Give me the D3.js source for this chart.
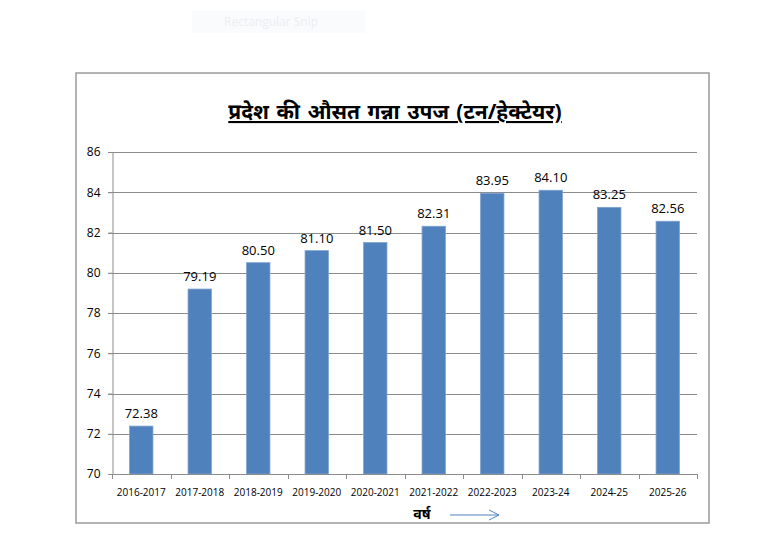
<!DOCTYPE html>
<html>
<head>
<meta charset="utf-8">
<script src="https://cdn.jsdelivr.net/npm/d3@7"></script>
<style>
  body { margin: 0; background: #fff; }
  svg text { font-family: "Open Sans", "Noto Sans", sans-serif; }
</style>
</head>
<body>
<script>
// years on the x axis
var years = ['2016-2017', '2017-2018', '2018-2019', '2019-2020', '2020-2021',
             '2021-2022', '2022-2023', '2023-24', '2024-25', '2025-26'];
// average sugarcane yield (tonnes / hectare)
var yields = [72.38, 79.19, 80.50, 81.10, 81.50, 82.31, 83.95, 84.10, 83.25, 82.56];
var yTicks = [70, 72, 74, 76, 78, 80, 82, 84, 86];
var title = 'प्रदेश की औसत गन्ना उपज (टन/हेक्टेयर)';
var xTitle = 'वर्ष';

var W = 760, H = 551;
var svg = d3.select('body').append('svg').attr('width', W).attr('height', H);

// faint leftover snip box at top
svg.append('rect').attr('x', 192).attr('y', 11).attr('width', 173).attr('height', 22)
  .attr('fill', '#fafbfd');
svg.append('text').attr('x', 224).attr('y', 26).text('Rectangular Snip')
  .attr('font-size', 12).attr('fill', '#eceef2');

// chart frame
svg.append('rect').attr('x', 76).attr('y', 73).attr('width', 633).attr('height', 450)
  .attr('fill', '#fff').attr('stroke', '#9a9a9a').attr('stroke-width', 1.5);

var plot = { left: 112, right: 697, top: 152, bottom: 474 };

var x = d3.scaleBand().domain(years).range([plot.left, plot.right]).paddingInner(0.6).paddingOuter(0.3);
var y = d3.scaleLinear().domain([70, 86]).range([plot.bottom, plot.top]);

// gridlines
svg.append('g').selectAll('line').data(yTicks.slice(1)).enter().append('line')
  .attr('x1', plot.left - 4).attr('x2', plot.right)
  .attr('y1', function(d) { return Math.round(y(d)) + 0.5; })
  .attr('y2', function(d) { return Math.round(y(d)) + 0.5; })
  .attr('stroke', '#8c8c8c').attr('stroke-width', 1);

// bars
svg.append('g').selectAll('rect').data(yields).enter().append('rect')
  .attr('x', function(d, i) { return x(years[i]); })
  .attr('y', function(d) { return y(d); })
  .attr('width', x.bandwidth())
  .attr('height', function(d) { return plot.bottom - y(d); })
  .attr('fill', '#4f81bd').attr('stroke', '#7fa3d0').attr('stroke-width', 0.8);

// value labels
svg.append('g').selectAll('text').data(yields).enter().append('text')
  .attr('x', function(d, i) { return x(years[i]) + x.bandwidth() / 2; })
  .attr('y', function(d) { return y(d) - 8; })
  .attr('text-anchor', 'middle').attr('font-size', 13).attr('fill', '#000')
  .text(function(d) { return d.toFixed(2); });

// y axis
var yAxis = svg.append('g').attr('transform', 'translate(' + (plot.left + 0.5) + ',0)')
  .call(d3.axisLeft(y).tickValues(yTicks).tickSize(4).tickPadding(8));
yAxis.select('.domain').attr('stroke', '#8c8c8c');
yAxis.selectAll('line').attr('stroke', '#8c8c8c');
yAxis.selectAll('text').attr('font-size', 12).attr('fill', '#000')
  .style('font-family', '"Open Sans", sans-serif');

// x axis
var band = (plot.right - plot.left) / years.length;
var xAxis = svg.append('g').attr('transform', 'translate(0,' + (plot.bottom + 0.5) + ')')
  .call(d3.axisBottom(x).tickSize(0).tickPadding(14));
xAxis.select('.domain').attr('stroke', '#8c8c8c').attr('d', 'M' + plot.left + ',0H' + plot.right);
xAxis.selectAll('text').attr('font-size', 10).attr('fill', '#000')
  .style('font-family', '"Open Sans", sans-serif');
// category dividers
svg.append('g').selectAll('line').data(d3.range(years.length + 1)).enter().append('line')
  .attr('x1', function(i) { return Math.round(plot.left + i * band) + 0.5; })
  .attr('x2', function(i) { return Math.round(plot.left + i * band) + 0.5; })
  .attr('y1', plot.bottom).attr('y2', plot.bottom + 5)
  .attr('stroke', '#8c8c8c');

// title
svg.append('text').attr('x', 395).attr('y', 119).attr('text-anchor', 'middle')
  .attr('font-size', 21).attr('font-weight', 'bold').attr('text-decoration', 'underline')
  .attr('word-spacing', 2).attr('fill', '#000').text(title);

// x title + arrow
svg.append('text').attr('x', 422).attr('y', 519).attr('text-anchor', 'middle')
  .attr('font-size', 14).attr('font-weight', 'bold').attr('fill', '#000').text(xTitle);
svg.append('line').attr('x1', 450).attr('x2', 499).attr('y1', 515).attr('y2', 515)
  .attr('stroke', '#4f81bd').attr('stroke-width', 1);
svg.append('path').attr('d', 'M489,510L499,515L489,520')
  .attr('fill', 'none').attr('stroke', '#4f81bd').attr('stroke-width', 1);
</script>
</body>
</html>
